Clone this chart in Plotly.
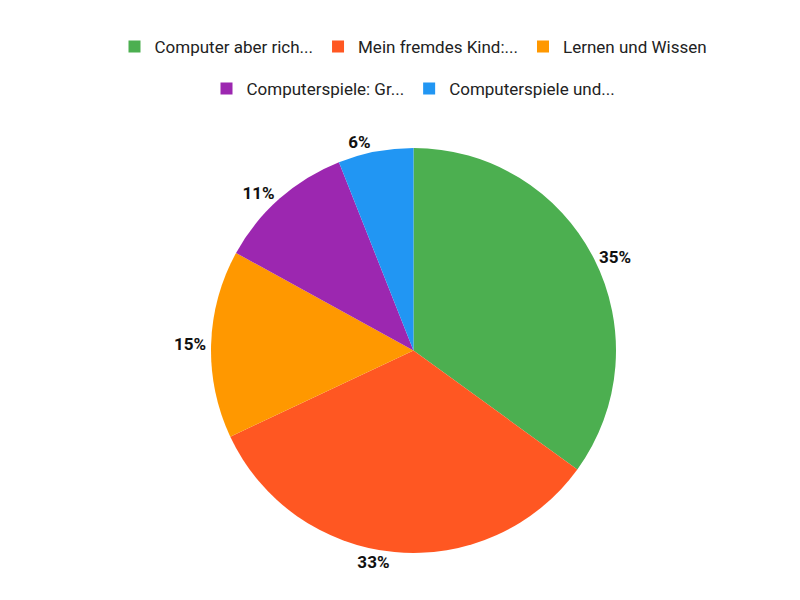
import plotly.graph_objects as go

labels = ["Computer aber rich...", "Mein fremdes Kind:...", "Lernen und Wissen",
          "Computerspiele: Gr...", "Computerspiele und..."]
values = [35, 33, 15, 11, 6]
colors = ["#4caf50", "#ff5722", "#ff9800", "#9c27b0", "#2196f3"]

fig = go.Figure(go.Pie(
    labels=labels, values=values, sort=False, direction="clockwise", rotation=0,
    marker=dict(colors=colors, line=dict(width=0)),
    textposition="outside", texttemplate="<b>%{value}%</b>",
    textfont=dict(family="Roboto", size=17, color="#111"),
    hoverinfo="label+percent", showlegend=False,
    domain=dict(x=[0.1, 0.9], y=[0, 1]),
))

# legend entries split over two centred rows, like the original
for i, (lab, col) in enumerate(zip(labels, colors)):
    fig.add_trace(go.Scatter(
        x=[None], y=[None], mode="markers", name=lab,
        marker=dict(symbol="square", size=18, color=col),
        legend="legend" if i < 3 else "legend2",
    ))

leg = dict(orientation="h", x=0.5, xanchor="center", yref="container", yanchor="top",
           font=dict(size=17, color="#222"), itemsizing="constant")
fig.update_layout(
    width=800, height=600, paper_bgcolor="white", plot_bgcolor="white",
    font=dict(family="Roboto", size=17, color="#222"),
    margin=dict(t=140, b=55, l=40, r=40),
    xaxis=dict(visible=False), yaxis=dict(visible=False),
    legend=dict(leg, y=0.965),
    legend2=dict(leg, y=0.895),
)
fig.write_html("out.html")
